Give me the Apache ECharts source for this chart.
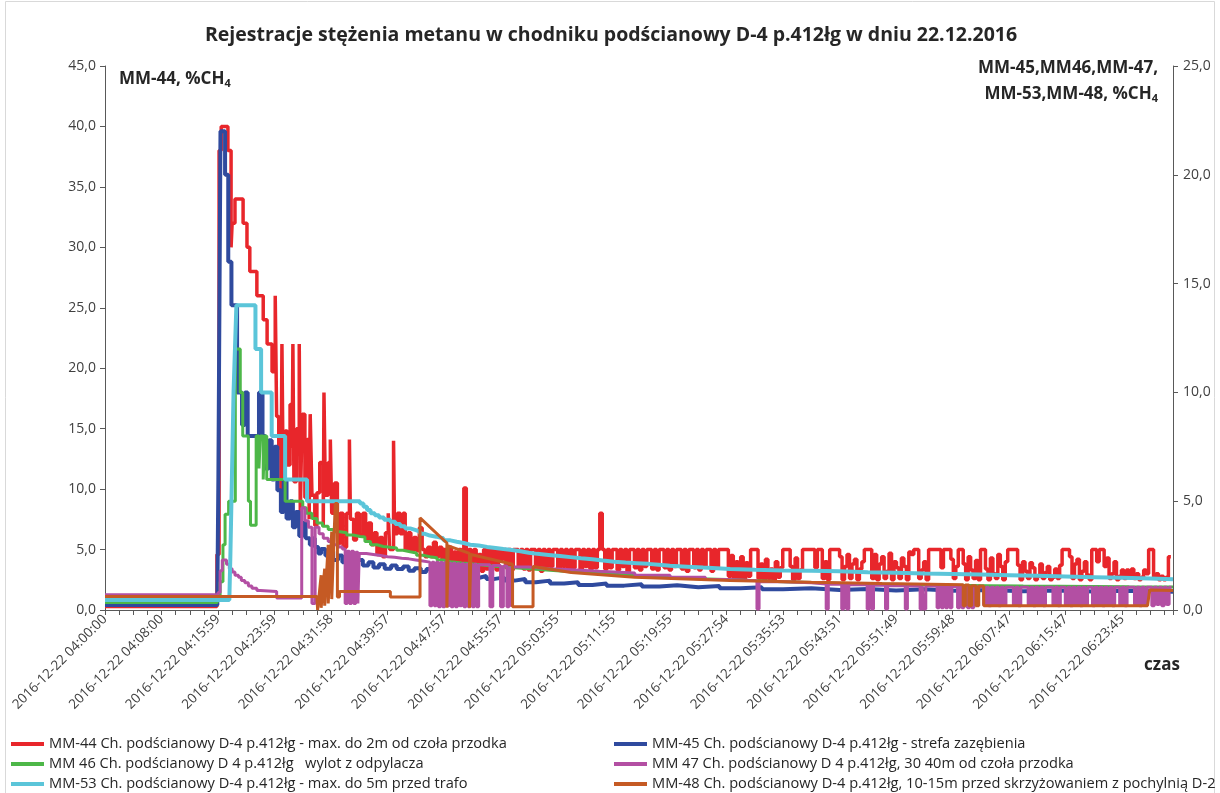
<!DOCTYPE html>
<html><head><meta charset="utf-8">
<script src="https://cdn.jsdelivr.net/npm/echarts@6/dist/echarts.min.js"></script>
<style>html,body{margin:0;padding:0;background:#fff}#c{width:1220px;height:793px}</style>
</head><body><div id="c"></div>
<script>
// x values: minutes after 2016-12-22 04:00:00
const tickLabels = ["2016-12-22 04:00:00","2016-12-22 04:08:00","2016-12-22 04:15:59","2016-12-22 04:23:59","2016-12-22 04:31:58","2016-12-22 04:39:57","2016-12-22 04:47:57","2016-12-22 04:55:57","2016-12-22 05:03:55","2016-12-22 05:11:55","2016-12-22 05:19:55","2016-12-22 05:27:54","2016-12-22 05:35:53","2016-12-22 05:43:51","2016-12-22 05:51:49","2016-12-22 05:59:48","2016-12-22 06:07:47","2016-12-22 06:15:47","2016-12-22 06:23:45"];

const seriesNames = [
 "MM-44 Ch. podścianowy D-4 p.412łg - max. do 2m od czoła przodka",
 "MM-45 Ch. podścianowy D-4 p.412łg - strefa zazębienia",
 "MM 46 Ch. podścianowy D 4 p.412łg   wylot z odpylacza",
 "MM 47 Ch. podścianowy D 4 p.412łg, 30 40m od czoła przodka",
 "MM-53 Ch. podścianowy D-4 p.412łg - max. do 5m przed trafo",
 "MM-48 Ch. podścianowy D-4 p.412łg, 10-15m przed skrzyżowaniem z pochylnią D-2"
];

// MM-44 (left axis) – [minute, %CH4]
const mm44Head = [[0,0.28],[15.85,4.6],[16.15,38],[16.45,40],[17.4,38],[17.85,30],[18.0,32],[18.4,34],[19.55,32],[20.1,30],[20.5,28],[21.5,26],[22.4,24],[22.95,22],
[23.65,19.7],[24.1,26],[24.3,16],[24.6,13.4],[24.9,8.5],[25.05,22],[25.25,9],[25.5,14.8],[25.8,12],[26.2,17],[26.5,13.4],[26.6,22],[26.75,10.6],[27.1,15],[27.5,22],[27.65,8],[27.9,16.2],[28.3,9.3],[28.6,14.1],[28.9,7.5],[29.05,16.2],[29.3,9.5],[29.7,7.0],[30.0,9.7],[30.4,12.2],[30.9,6.9],[31.0,18],[31.2,9.5],[31.6,12.2],[31.9,14.1],[32.1,8],[32.5,10.5],[32.9,5.5],[33.3,8],[33.7,5.2],[34.2,8],[34.6,14.1],[34.75,7.5],[35.2,5.8],[35.6,8],[36.0,6.2],[36.5,8],[36.9,5.8],[37.3,7.2],[37.7,5.4],[38.1,6.4],[38.5,4.6],[38.9,6.0],[39.3,4.4],[39.7,6.4],[40.1,8],[40.3,5.0],[40.85,14],[41.0,6.3],[41.4,8],[41.8,6.3],[42.2,8],[42.5,5.0],[42.9,6.4],[43.3,4.9],[43.7,6.0],[44.1,4.9],[44.5,6.8],[44.9,5.0],[45.3,4.4],[45.7,5.2],[46.1,4.4],[46.5,5.6],[46.9,4.4],[47.3,5.2],[47.7,4.2]];
// MM-44 readings from minute 48, one every 0.35 min
const mm44TailStart = 48, mm44TailStep = 0.35;
const mm44Tail = [
5.0,3.4,5.2,3.3,4.8,3.5,5.0,3.6,10.1,3.4,
5.0,3.2,5.0,3.6,4.6,3.2,5.0,3.4,5.0,3.8,
5.0,3.3,5.0,4.2,5.0,3.5,5.0,3.3,5.0,5.0,
3.6,5.0,3.4,5.0,3.3,5.0,5.0,3.7,5.0,3.2,
5.0,3.5,5.0,3.6,5.0,5.0,3.3,5.0,3.6,5.0,
3.2,5.0,3.5,5.0,5.0,3.3,5.0,3.6,5.0,3.4,
5.0,3.5,5.0,8.0,5.0,3.4,5.0,3.5,5.0,5.0,
3.3,5.0,3.6,5.0,3.2,5.0,5.0,3.5,5.0,3.3,
5.0,3.6,5.0,5.0,3.4,5.0,3.3,5.0,5.0,3.5,
5.0,3.3,5.0,3.6,5.0,5.0,3.4,5.0,3.2,5.0,
5.0,3.5,5.0,3.3,5.0,3.6,5.0,5.0,3.2,5.0,
3.5,5.0,5.0,5.0,5.0,2.8,4.5,2.6,4.0,2.5,
4.4,2.6,3.9,2.8,5.0,5.0,5.0,2.6,3.8,2.5,
4.2,2.6,3.4,2.5,4.0,2.7,3.5,5.0,5.0,5.0,
3.6,2.5,4.3,2.6,3.3,5.0,5.0,5.0,5.0,5.0,
3.5,5.0,5.0,2.6,4.0,2.5,5.0,5.0,5.0,5.0,
4.4,2.5,3.6,4.6,2.6,3.8,4.2,2.5,3.4,4.0,
5.0,5.0,5.0,2.6,4.6,2.5,3.8,4.4,2.6,3.2,
4.7,2.5,4.0,3.5,2.6,4.3,3.6,2.5,4.8,4.6,
5.0,5.0,2.6,3.3,4.0,2.5,5.0,5.0,5.0,5.0,
5.0,3.5,5.0,5.0,5.0,4.2,2.6,3.6,5.0,5.0,
3.8,2.5,4.4,3.3,2.6,4.1,2.5,5.0,5.0,3.4,
2.5,4.3,3.0,2.6,4.6,3.6,2.5,4.0,5.0,5.0,
5.0,5.0,3.7,2.5,4.0,3.2,2.6,3.9,3.5,2.5,
2.8,3.8,2.6,3.1,3.6,2.5,2.7,3.4,2.6,3.7,
5.0,5.0,5.0,4.4,2.6,3.8,4.2,2.5,3.2,4.0,
2.9,2.5,5.0,5.0,4.0,5.0,5.0,3.6,4.3,2.6,
3.0,4.0,2.5,2.8,3.3,2.6,3.3,2.7,3.4,2.6,
3.0,2.5,2.7,3.3,3.0,5.0,5.0,2.7,3.0,2.5,
2.8,2.5,2.7,4.4,4.4];

// MM-45 (right axis)
const mm45 = [[0,0.23],[15.9,0.45],[16.05,6],[16.2,14],[16.35,22],[17.0,20],[17.45,16],[17.9,14],[18.7,10],[19.4,8.5],[19.8,10],[20.2,8],[21.8,10],[22.3,8],[22.7,6.5],[23.2,7.8],[23.6,6],[24.0,7.5],[24.4,5.5],[24.9,4.5],[25.3,6],[25.7,4.2],[26.2,5.0],[26.6,3.8],[27.0,4.5],[27.5,3.4],[28.0,4.0],[28.4,3.3],[29.0,3.0],[29.4,3.3],[29.7,2.9],[30.2,2.6],[30.6,2.8],[31.2,2.5],[31.8,2.7],[32.3,2.3],[33.0,2.5],[33.6,2.2],[34.3,2.4],[35.0,2.15],[35.8,2.3],[36.5,2.05],[37.3,2.2],[38.0,1.95],[38.8,2.1],[39.6,1.9],[40.5,2.05],[41.3,1.88],[42.2,2.0],[43.0,1.8],[43.8,1.92],[44.7,1.75],[45.5,1.88],[46.4,1.72],[47.3,1.82],[48.2,1.65],[49.0,1.75],[50.0,1.58],[51.0,1.68],[52.0,1.48],[53.0,1.56],[54.0,1.42],[55.0,1.5],[56.5,1.35],[58.0,1.42],[59.5,1.28],[61.0,1.35],[63.0,1.22],[65.0,1.28],[67.0,1.15],[69.0,1.22],[71.0,1.12],[73.5,1.18],[76.0,1.08],[78.5,1.14],[81.0,1.05],[84.0,1.1],[87.0,1.0],[90.0,1.05],[93.0,0.95],[96.0,1.0],[100.0,0.92],[104.0,0.97],[108.0,0.9],[112.0,0.95],[116.0,0.88],[120.0,0.92],[125.0,0.86],[130.0,0.9],[135.0,0.85],[140.0,0.88],[145.0,0.84],[151.2,0.84]];

// MM-46 (right axis)
const mm46 = [[0,0.34],[15.9,0.45],[16.3,1.3],[16.7,3.0],[17.0,4.4],[17.5,5.0],[18.45,12],[19.15,10],[19.5,8],[20.3,5],[20.6,3.9],[21.4,8],[21.8,6.5],[22.0,8],[22.4,6],[22.6,8],[22.9,6],[25.5,5],[28.0,4.7],[28.5,4.45],[29.3,4.2],[30.0,4.0],[30.8,3.85],[31.6,3.7],[32.4,3.6],[33.3,3.55],[34.2,3.45],[35.1,3.38],[36.1,3.35],[36.8,3.15],[37.6,3.0],[38.5,2.92],[39.4,2.88],[40.4,2.85],[41.3,2.75],[42.2,2.68],[43.2,2.62],[44.1,2.52],[45.0,2.45],[46.0,2.4],[47.0,2.3],[47.9,2.22],[48.9,2.16],[50.5,2.12],[52.0,2.07],[53.5,2.0],[55.5,1.95],[57.5,1.9],[60.0,1.83],[63.0,1.76],[66.0,1.7],[69.0,1.64],[72.0,1.58],[75.0,1.53],[78.0,1.48],[81.0,1.44],[84.0,1.4],[88.0,1.35],[92.0,1.3],[96.0,1.26],[100.0,1.22],[105.0,1.19],[110.0,1.16],[115.0,1.14],[120.0,1.12],[125.0,1.1],[130.0,1.09],[135.0,1.08],[140.0,1.07],[145.0,1.06],[151.2,1.06]];

// MM-47 (right axis)
const mm47Head = [[0,0.7],[16.0,0.8],[16.3,1.8],[16.6,2.3],[17.2,2.1],[17.6,1.9],[18.0,1.75],[18.4,1.6],[18.9,1.5],[19.3,1.35],[19.8,1.25],[20.3,1.1],[20.8,1.0],[21.5,0.9],[22.0,0.85],[24.3,0.55],
[27.85,4.7],[28.3,4.1],[28.8,3.8],[29.3,0.3],[29.75,3.8],[30.3,3.5],[30.9,3.3],[31.6,3.15],[32.3,3.0],[33.0,2.9],[33.6,2.8],[34.0,0.3],[34.3,2.7],[34.6,0.3],[34.9,2.7],[35.2,0.3],[35.5,2.65],[35.8,0.3],[36.0,2.6],[37.0,2.55],[38.0,2.5],[39.0,2.45],[40.0,2.42],[41.0,2.38],[42.0,2.35],[43.0,2.3],[44.0,2.25],[45.0,2.2],
[46.0,0.2],[46.3,2.2],[46.6,0.2],[46.9,2.2],[47.2,0.15],[47.5,2.18],[47.8,0.15],[48.1,2.18],[48.4,0.2],[48.7,2.15],[49.0,0.15],[49.3,2.15],[49.6,0.15],[49.9,2.12],[50.2,0.2],[50.5,2.12],[50.8,0.15],[51.1,2.1],[51.4,0.15],[51.7,2.1],[52.0,0.15],[52.3,2.1],[52.6,0.15],[52.9,2.08],
[54.5,0.15],[54.9,2.05],[56.0,0.15],[56.4,2.02],[56.9,0.15],[57.2,2.0],[57.4,0.15],[57.65,1.98],
[60,1.9],[63,1.85],[66,1.78],[70,1.7],[75,1.6],[80,1.5],[85,1.4],[88,1.35],
[92.3,0.05],[92.6,1.3],[96,1.25],[100,1.2],[102.1,0.05],[102.4,1.18],[104.3,0.05],[104.6,1.17],[105.0,0.05],[105.3,1.16],[107.9,0.05],[108.2,1.14],[108.5,0.05],[108.8,1.14],[110.5,0.05],[110.8,1.12],[113.3,0.05],[113.6,1.1],[115.4,0.05],[115.7,1.1],[115.9,0.05],[116.2,1.1],
[117.8,0.1],[118.1,1.08],[118.4,0.1],[118.7,1.08],[119.0,0.1],[119.3,1.08],[119.6,0.1],[119.9,1.08],
[120.7,0.1],[121.0,1.07],[121.3,0.1],[121.6,1.07],[122.1,0.1],[122.4,1.06],[122.7,0.1],[123.0,1.06]];
// MM-47 readings from minute 124.4, one every 0.35 min
const mm47TailStart = 124.4, mm47TailStep = 0.35;
const mm47Tail = [
0.25,1.05,0.2,1.05,0.25,1.05,0.2,1.05,0.25,1.05,
1.05,1.05,0.25,1.05,0.2,1.05,1.05,1.05,0.25,1.05,
0.2,1.05,0.25,1.05,0.2,1.05,1.05,1.05,0.25,1.05,
0.2,1.05,1.05,0.25,1.05,0.2,1.05,0.25,1.05,0.2,
1.05,0.25,1.05,1.05,0.2,1.05,0.25,1.05,0.2,1.05,
0.25,1.05,0.2,1.05,1.05,0.25,1.05,0.2,1.05,1.05,
1.05,0.25,1.05,0.2,1.05,0.25,1.05,1.05,0.2,1.05,
0.25,1.05,0.2,1.05,0.25,1.05,1.05];

// MM-53 (right axis)
const mm53 = [[0,0.46],[17.6,0.46],[17.75,2.5],[17.9,5],[18.05,7.5],[18.2,10],[18.4,12],[18.6,14],[21.3,12],[22.1,10],[23.6,8],[25.5,6],[28.6,5],[36.1,4.9],[36.6,4.75],[37.1,4.6],[37.6,4.45],[38.2,4.35],[38.8,4.25],[39.5,4.15],[40.4,4.05],[41.1,3.95],[41.8,3.85],[42.5,3.75],[43.2,3.68],[43.9,3.6],[44.6,3.5],[45.3,3.42],[46.0,3.37],[46.9,3.3],[47.9,3.2],[48.9,3.14],[49.8,3.08],[50.8,3.0],[51.7,2.96],[52.9,2.9],[54.1,2.85],[55.3,2.8],[56.4,2.76],[57.6,2.7],[58.8,2.63],[60.0,2.58],[61.2,2.53],[62.8,2.48],[64.4,2.43],[65.9,2.38],[67.4,2.33],[69.0,2.27],[70.5,2.22],[72.1,2.18],[73.7,2.15],[75.3,2.12],[76.9,2.08],[78.4,2.03],[80.0,1.99],[82.4,1.95],[84.7,1.92],[86.6,1.88],[88.5,1.85],[92,1.82],[96,1.8],[100,1.78],[104,1.74],[108,1.71],[112,1.68],[116,1.66],[120,1.63],[124,1.6],[128,1.57],[132,1.54],[136,1.51],[140,1.48],[144,1.45],[148,1.41],[151.2,1.38]];

// MM-48 (right axis), straight segments between readings
const mm48 = [[0,0.62],[30.0,0.62],[30.1,0.0],[30.6,1.6],[30.6,0.1],[31.1,1.9],[31.1,0.2],[31.6,3.0],[31.6,0.3],[32.1,3.6],[32.1,0.5],[32.6,4.9],[32.9,4.9],[32.9,0.6],[33.2,0.6],[33.2,0.85],[40.4,0.85],[40.4,0.6],[44.6,0.6],[44.6,4.23],[48.4,3.08],[48.4,0.1],[48.6,0.1],[48.6,2.95],[51.6,2.6],[51.6,0.1],[51.8,0.1],[51.8,2.55],[57.7,2.1],[57.7,0.15],[60.6,0.15],[60.6,2.0],[66,1.72],[75,1.5],[88.5,1.36],[100,1.28],[110,1.22],[121.5,1.16],[121.5,0.2],[121.8,0.2],[121.8,1.15],[122.3,1.15],[122.3,0.2],[122.7,0.2],[122.7,1.12],[123.3,1.12],[123.3,0.2],[123.7,0.2],[123.7,1.1],[124.4,1.1],[124.4,0.2],[147.6,0.2],[147.9,0.92],[151.2,0.9]];

const colors = ['#E8262B','#2F4A9E','#4DB748','#B34FA3','#5BC5D9','#C55A24'];
const FONT = '"Open Sans", sans-serif';
const TXT = '#262626';

function fromUniform(start, step, vals){ return vals.map((v,i)=>[+(start+i*step).toFixed(3), v]); }
const d44 = mm44Head.concat(fromUniform(mm44TailStart, mm44TailStep, mm44Tail));
const d47 = mm47Head.concat(fromUniform(mm47TailStart, mm47TailStep, mm47Tail));

const comma = v => v.toFixed(1).replace('.', ',');
const axisCol = '#595959';

function mk(i, data, yIdx, width, step){
  return {name: seriesNames[i], type:'line', data, yAxisIndex:yIdx, step: step ? 'end' : false,
    showSymbol:false, symbol:'none', animation:false,
    lineStyle:{color:colors[i], width}, itemStyle:{color:colors[i]}};
}
// legend slots: [series index, left, top]
const legendSlots = [[0,11,736],[2,11,756],[4,11,776],[1,614,736],[3,614,756],[5,614,776]];
const legends = legendSlots.map(([i,l,t]) => ({data:[seriesNames[i]], orient:'horizontal', left:l, top:t, padding:0,
  itemWidth:33, itemHeight:4, icon:'rect', selectedMode:false,
  textStyle:{fontSize:14.6, fontFamily:FONT, color:TXT, lineHeight:16}}));

const chart = echarts.init(document.getElementById('c'), null, {renderer:'canvas'});
chart.setOption({
  backgroundColor:'#fff',
  animation:false,
  grid:{left:105, right:47, top:66, bottom:183, containLabel:false},
  xAxis:{type:'value', min:0, max:151.2, interval:2,
    axisLine:{show:true, onZero:false, lineStyle:{color:axisCol}},
    axisTick:{show:true, length:5, lineStyle:{color:axisCol}},
    splitLine:{show:false},
    axisLabel:{rotate:45, margin:7, fontSize:13.5, fontFamily:FONT, color:'#404040',
      formatter: v => { const k = v/8; return (Math.abs(k-Math.round(k))<1e-6 && tickLabels[Math.round(k)]) || ''; }}},
  yAxis:[
    {type:'value', min:0, max:45, interval:5, position:'left',
     axisLine:{show:true, lineStyle:{color:axisCol}}, axisTick:{show:true, length:5, lineStyle:{color:axisCol}},
     splitLine:{show:false}, axisLabel:{margin:9, fontSize:14, fontFamily:FONT, color:'#404040', formatter:comma}},
    {type:'value', min:0, max:25, interval:5, position:'right',
     axisLine:{show:true, lineStyle:{color:axisCol}}, axisTick:{show:true, length:5, lineStyle:{color:axisCol}},
     splitLine:{show:false}, axisLabel:{margin:10, fontSize:14, fontFamily:FONT, color:'#404040', formatter:comma}}
  ],
  legend: legends,
  series:[
    mk(0, d44, 0, 3.5, true),
    mk(1, mm45, 1, 4, true),
    mk(2, mm46, 1, 3, true),
    mk(3, d47, 1, 3, true),
    mk(4, mm53, 1, 4, true),
    mk(5, mm48, 1, 3, false)
  ],
  graphic:[
    {type:'rect', silent:true, z:-10, shape:{x:5.5,y:1.5,width:1209,height:802}, style:{fill:'none', stroke:'#d9d9d9', lineWidth:1}},
    {type:'text', silent:true, style:{x:611, y:35, text:'Rejestracje stężenia metanu w chodniku podścianowy D-4 p.412łg w dniu 22.12.2016', textAlign:'center', textVerticalAlign:'middle', fontSize:19.5, fontWeight:'bold', fontFamily:FONT, fill:TXT}},
    {type:'text', silent:true, style:{x:119, y:79, textAlign:'left', textVerticalAlign:'middle', text:'{a|MM-44, %CH}{s|4}',
      rich:{a:{fontSize:17, fontWeight:'bold', fontFamily:FONT, fill:TXT, color:TXT}, s:{fontSize:11, fontWeight:'bold', fontFamily:FONT, fill:TXT, color:TXT, padding:[9,0,0,0]}}}},
    {type:'text', silent:true, style:{x:1158, y:68, textAlign:'right', textVerticalAlign:'middle', text:'MM-45,MM46,MM-47,', fontSize:17, fontWeight:'bold', fontFamily:FONT, fill:TXT}},
    {type:'text', silent:true, style:{x:1158, y:94, textAlign:'right', textVerticalAlign:'middle', text:'{a|MM-53,MM-48, %CH}{s|4}',
      rich:{a:{fontSize:17, fontWeight:'bold', fontFamily:FONT, fill:TXT, color:TXT}, s:{fontSize:11, fontWeight:'bold', fontFamily:FONT, fill:TXT, color:TXT, padding:[9,0,0,0]}}}},
    {type:'text', silent:true, style:{x:1162, y:665, textAlign:'center', textVerticalAlign:'middle', text:'czas', fontSize:17, fontWeight:'bold', fontFamily:FONT, fill:TXT}}
  ]
});
</script>
</body></html>
